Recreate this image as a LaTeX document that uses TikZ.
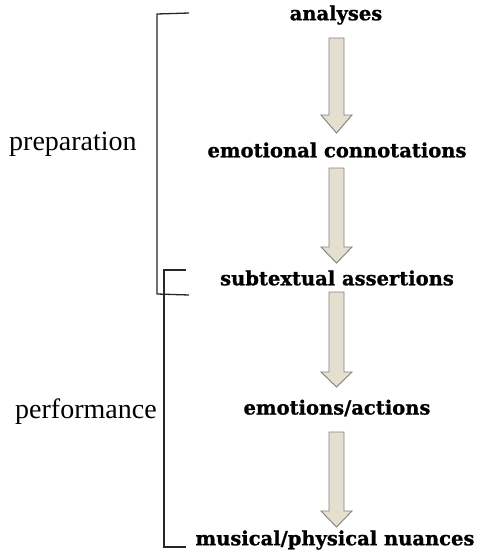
\documentclass[tikz,border=0pt]{standalone}
\usepackage{fontspec}
\setmainfont{Liberation Serif}
\newfontfamily\heavyfont[BoldFeatures={FakeBold=1.0}]{DejaVu Serif}
\definecolor{arrowfill}{RGB}{228,223,207}
\definecolor{arrowedge}{RGB}{130,128,120}
\begin{document}
\begin{tikzpicture}[x=1pt,y=-1pt,
  steplabel/.style={font=\heavyfont\bfseries\fontsize{19.5}{22}\selectfont, inner sep=0pt, anchor=center},
  phaselabel/.style={font=\fontsize{28}{30}\selectfont, inner sep=0pt, anchor=west},
  flowarrow/.style={draw=arrowedge, fill=arrowfill, line width=0.9pt, line join=miter},
  bracketline/.style={draw=black!85, line width=1.3pt}]
\useasboundingbox (0,0) rectangle (480,552);
\node[steplabel] (a) at (336,15) {analyses};
\node[steplabel] (b) at (337,150) {emotional connotations};
\node[steplabel] (c) at (337,278) {subtextual assertions};
\node[steplabel] (d) at (337,408) {emotions/actions};
\node[steplabel] (e) at (335,540) {musical/physical nuances};
\node[phaselabel] (p) at (9,144) {preparation};
\node[phaselabel] (q) at (15,412) {performance};
% arrows
\foreach \t/\b/\tip in {38/115/133, 168/247/263, 292/372/387, 432/511/527}{
  \path[flowarrow] (329,\t) -- (344,\t) -- (344,\b) -- (352,\b) -- (336.5,\tip) -- (321,\b) -- (329,\b) -- cycle;
}
% brackets
\draw[bracketline] (189,13) -- (157,14) -- (157,294) -- (189,295);
\draw[bracketline] (186,270) -- (164,270) -- (164,547) -- (186,547);
\end{tikzpicture}
\end{document}
